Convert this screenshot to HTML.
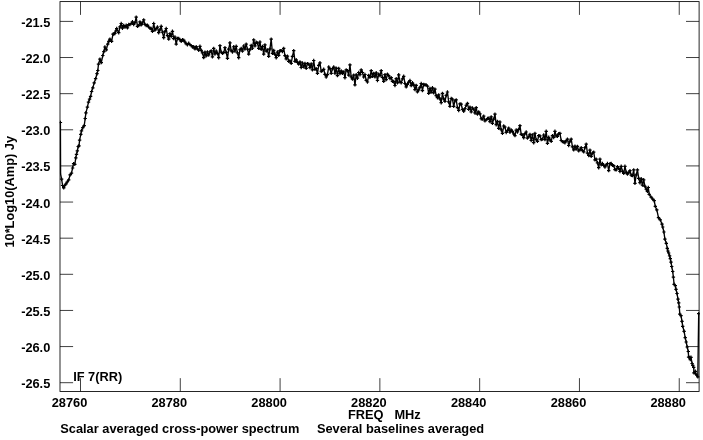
<!DOCTYPE html>
<html><head><meta charset="utf-8"><title>Scalar averaged cross-power spectrum</title>
<style>
html,body{margin:0;padding:0;background:#fff;}
svg{display:block;}
text{font-family:"Liberation Sans",sans-serif;font-weight:bold;font-size:12.8px;fill:#000;}
</style></head><body>
<svg width="703" height="440" viewBox="0 0 703 440">
<rect width="703" height="440" fill="#fff"/>
<rect x="60.0" y="1.6" width="639.10" height="389.85" fill="none" stroke="#000" stroke-width="0.85"/>
<path d="M60.0 21.40h13.1M699.1 21.40h-13.1M60.0 57.53h13.1M699.1 57.53h-13.1M60.0 93.66h13.1M699.1 93.66h-13.1M60.0 129.79h13.1M699.1 129.79h-13.1M60.0 165.92h13.1M699.1 165.92h-13.1M60.0 202.05h13.1M699.1 202.05h-13.1M60.0 238.18h13.1M699.1 238.18h-13.1M60.0 274.31h13.1M699.1 274.31h-13.1M60.0 310.44h13.1M699.1 310.44h-13.1M60.0 346.57h13.1M699.1 346.57h-13.1M60.0 382.70h13.1M699.1 382.70h-13.1M80.50 1.6v13.3M80.50 391.45v-13.3M180.29 1.6v13.3M180.29 391.45v-13.3M280.08 1.6v13.3M280.08 391.45v-13.3M379.87 1.6v13.3M379.87 391.45v-13.3M479.66 1.6v13.3M479.66 391.45v-13.3M579.45 1.6v13.3M579.45 391.45v-13.3M679.24 1.6v13.3M679.24 391.45v-13.3" fill="none" stroke="#000" stroke-width="0.75"/>
<clipPath id="c"><rect x="59.6" y="1" width="640.2" height="391"/></clipPath>
<g clip-path="url(#c)">
<path d="M60.4 122.5 L60.6 174 L61.6 179.2 L62.6 185.5 L63.7 187.9 L64.75 185.52 L65.8 184.2 L67.2 182 L68.7 179.9 L70.1 174.9 L71.5 173.2 L72.6 168 L73.6 163.6 L74.8 164.3 L75.8 157.9 L76.5 154.3 L77.35 150.94 L78.2 146.5 L79 145.8 L79.6 140.1 L80.8 134.4 L81.5 130.8 L82.8 127.7 L84.2 125.6 L85.2 118.5 L85.9 112.8 L87.4 107.1 L88.5 102.1 L89.55 99.2 L90.6 96.4 L91.6 91.5 L92.8 87.9 L94.2 82.9 L95.6 78.7 L97 73.7 L97.8 70.5 L98.5 64.1 L99.9 59.1 L101.3 62.6 L102.8 55.5 L103.85 51.57 L104.9 47 L106.3 49.8 L107.7 44.1 L108.8 41.44 L109.9 39.2 L111.6 41.3 L113 34.2 L113.95 33.81 L114.9 33.5 L115.8 31.02 L116.7 28.5 L118.7 32.7 L119.95 26.84 L121.2 23.5 L122.45 28.22 L123.7 25.39 L124.95 27 L126.2 25.32 L127.45 27.8 L128.7 24.55 L129.95 24.59 L131.2 23.5 L132.45 21.77 L133.7 24.5 L134.95 22.61 L136.2 17.1 L137.45 26.3 L138.7 25.6 L139.95 21.91 L141.2 24.85 L142.45 23 L143.7 19.9 L144.95 24.5 L146.2 25.5 L147.45 25.16 L148.7 27 L149.95 28.26 L151.2 28.5 L152.45 31.3 L153.7 23.5 L154.95 30.03 L156.2 28.5 L157.45 27.03 L158.7 32.7 L159.95 29.79 L161.2 26.3 L162.45 32.27 L163.7 37.7 L164.95 31.45 L166.2 28.5 L167.45 35.59 L168.7 39.1 L169.95 33.71 L171.2 36.51 L172.45 31.3 L173.7 38.66 L174.95 37.01 L176.2 44.1 L177.45 38.43 L178.7 38.4 L179.95 39.77 L181.2 41.42 L182.45 39.68 L183.7 40.19 L184.95 42 L186.2 43.83 L187.45 44.73 L188.7 43.31 L189.95 44.65 L191.2 45.58 L192.45 47 L193.7 46.75 L194.95 48.9 L196.2 46.62 L197.45 49.1 L198.7 50.26 L199.95 46.3 L201.2 50.36 L202.45 52.94 L203.7 57.6 L204.95 52.22 L206.2 55.91 L207.45 51.9 L208.7 54.96 L209.95 51.8 L211.2 50.97 L212.45 56.9 L213.7 48.4 L214.95 54.01 L216.2 50.98 L217.45 53.4 L218.7 57.7 L219.95 45.6 L221.2 52.16 L222.45 53.4 L223.7 52.61 L224.95 47.7 L226.2 52.39 L227.45 58.4 L228.7 49.14 L229.95 42.8 L231.2 50.89 L232.45 52 L233.7 46.76 L234.95 51.02 L236.2 46.3 L237.45 52.81 L238.7 57.7 L239.95 49.74 L241.2 48.4 L242.45 51.17 L243.7 45.98 L244.95 49.04 L246.2 44.2 L247.45 49.1 L248.7 54.1 L249.95 49.65 L251.2 45.35 L252.45 48.24 L253.7 39.9 L254.95 45.92 L256.2 42.23 L257.45 43.06 L258.7 48.4 L259.95 42 L261.2 49.42 L262.45 46.54 L263.7 54.1 L264.95 44.9 L266.2 51.15 L267.45 50.02 L268.7 56.3 L269.95 48.93 L271.2 39.2 L272.45 53.4 L273.7 50.34 L274.95 54.29 L276.2 57.7 L277.45 52.03 L278.7 55.3 L279.95 50.72 L281.2 50.6 L282.45 51.5 L283.7 48.4 L284.95 55.6 L286.2 58.88 L287.45 56.17 L288.7 61.3 L289.95 60.91 L291.2 63.4 L292.45 56.42 L293.7 50.6 L294.95 61.35 L296.2 59.8 L297.45 62.47 L298.7 64.1 L299.95 61.89 L301.2 67.48 L302.45 63 L303.7 66.9 L304.95 63.4 L306.2 68.3 L307.45 63.61 L308.7 64.1 L309.95 67.6 L311.2 63.88 L312.45 69.8 L313.7 60.5 L314.95 69.37 L316.2 68.67 L317.45 73.3 L318.7 65.39 L319.95 62.8 L321.2 71.26 L322.45 70.6 L323.7 69.28 L324.95 74.32 L326.2 77 L327.45 74.6 L328.7 67 L329.95 68.66 L331.2 73.4 L332.45 68.86 L333.7 67 L334.95 73.24 L336.2 68.22 L337.45 75.6 L338.7 68.4 L339.95 73.63 L341.2 70.96 L342.45 73.4 L343.7 71.92 L344.95 77.7 L346.2 69.9 L347.45 70.6 L348.7 75.1 L349.95 64.9 L351.2 76.96 L352.45 79.1 L353.7 75.09 L354.95 84.8 L356.2 74.8 L357.45 78.21 L358.7 72.49 L359.95 74.72 L361.2 69.9 L362.45 72.5 L363.7 77 L364.95 74.52 L366.2 80.39 L367.45 82 L368.7 75.39 L369.95 77.36 L371.2 70.6 L372.45 76.41 L373.7 73.4 L374.95 76.91 L376.2 72.73 L377.45 80.5 L378.7 74.13 L379.95 75.65 L381.2 70.6 L382.45 77.44 L383.7 81.3 L384.95 74.7 L386.2 79.53 L387.45 74.1 L388.7 75.66 L389.95 78.43 L391.2 77.7 L392.45 81.28 L393.7 81.44 L394.95 85.5 L396.2 78.62 L397.45 82.83 L398.7 74.8 L399.95 81.88 L401.2 82.7 L402.45 78.92 L403.7 76.3 L404.95 83.49 L406.2 86.9 L407.45 84.4 L408.7 82.03 L409.95 80.5 L411.2 85.54 L412.45 82.8 L413.7 84.8 L414.95 89.6 L416.2 85.46 L417.45 91.9 L418.7 89.9 L419.95 87.39 L421.2 83.5 L422.45 90.6 L423.7 84.43 L424.95 84.9 L426.2 84.9 L427.45 86.13 L428.7 93.4 L429.95 88.5 L431.2 92.16 L432.45 87.8 L433.7 92.9 L434.95 89.2 L436.2 95.7 L437.45 97.7 L438.7 94.9 L439.95 98.79 L441.2 102.7 L442.45 93.4 L443.7 98.78 L444.95 101.3 L446.2 95.43 L447.45 92 L448.7 101.94 L449.95 106.3 L451.2 98.48 L452.45 99.1 L453.7 106.3 L454.95 100.74 L456.2 99.9 L457.45 107.54 L458.7 110.5 L459.95 103.88 L461.2 104.1 L462.45 109.5 L463.7 111.2 L464.95 108.68 L466.2 105.27 L467.45 103.4 L468.7 109.32 L469.95 107.17 L471.2 111.9 L472.45 107.99 L473.7 109.1 L474.95 112.97 L476.2 107.7 L477.45 114.1 L478.7 111.9 L479.95 113.78 L481.2 118.73 L482.45 119.1 L483.7 116.09 L484.95 120.84 L486.2 119.8 L487.45 118.51 L488.7 118.3 L489.95 121.64 L491.2 116.94 L492.45 123.3 L493.7 119.15 L494.95 114.1 L496.2 124.7 L497.45 121.38 L498.7 128.4 L499.95 122 L501.2 129.74 L502.45 133.4 L503.7 126.01 L504.95 127 L506.2 132.44 L507.45 130.6 L508.7 128.1 L509.95 132.25 L511.2 129.96 L512.45 131.3 L513.7 133.82 L514.95 135.6 L516.2 130.07 L517.45 132 L518.7 129.46 L519.95 125.6 L521.2 134.34 L522.45 134.9 L523.7 137.7 L524.95 133.65 L526.2 132 L527.45 138.15 L528.7 137 L529.95 134.47 L531.2 140.5 L532.45 134.9 L533.7 142.7 L534.95 133.4 L536.2 139.7 L537.45 141.3 L538.7 135.6 L539.95 135.88 L541.2 139.59 L542.45 139.1 L543.7 135 L544.95 139.6 L546.2 131.3 L547.45 143.4 L548.7 137.32 L549.95 139.78 L551.2 141.3 L552.45 135.6 L553.7 137.46 L554.95 131.3 L556.2 135.92 L557.45 136.3 L558.7 133.79 L559.95 133.4 L561.2 140.5 L562.45 141.63 L563.7 142.04 L564.95 142.7 L566.2 140.64 L567.45 139.1 L568.7 145.5 L569.95 141.38 L571.2 139.1 L572.45 146.8 L573.7 149.8 L574.95 146.2 L576.2 149.1 L577.45 146.44 L578.7 150.85 L579.95 149.8 L581.2 147.61 L582.45 150.69 L583.7 151.9 L584.95 147.68 L586.2 144.1 L587.45 153.11 L588.7 155.5 L589.95 150.16 L591.2 156.4 L592.45 153.07 L593.7 152.1 L594.95 159.85 L596.2 159.2 L597.45 162.78 L598.7 167.7 L599.95 159.2 L601.2 164.92 L602.45 163.5 L603.7 165.43 L604.95 167 L606.2 164.74 L607.45 163.5 L608.7 170.6 L609.95 163.58 L611.2 163.5 L612.45 165.41 L613.7 165.6 L614.95 169.54 L616.2 169.9 L617.45 166.62 L618.7 168.4 L619.95 171.5 L621.2 166.3 L622.45 171.18 L623.7 173.4 L624.95 166.3 L626.2 172.11 L627.45 174.1 L628.7 172.85 L629.95 170.6 L631.2 175.26 L632.45 175.6 L633.7 169.9 L634.95 183.4 L636.2 174.91 L637.45 169.9 L638.7 178.4 L639.95 182.7 L641.2 178.78 L642.45 185.07 L643.7 179.8 L644.95 186.33 L646.2 189.1 L647.4 191.4 L648.3 187.5 L649.2 194.3 L651.1 197.1 L652.8 199.2 L654.2 200.7 L655.3 206.4 L656.8 209.9 L658.5 217.7 L660.3 219.9 L662 224.1 L662.7 227 L663.9 232 L664.9 239.1 L666.3 243.3 L667.3 248.3 L667.9 251 L668.7 253 L669.6 255.8 L670.3 258.7 L671 262.2 L671.7 266.5 L672.7 271.5 L673.4 277.2 L674.1 284.3 L675.3 285.7 L676 289.3 L677 293.5 L678 299.2 L678.7 302.8 L679.3 307 L679.8 314.2 L681 315.7 L682 321.4 L682.7 326.3 L684.1 331.3 L685.2 337.7 L686.2 342 L687.2 347 L688.3 351.5 L688.6 357.1 L689.6 357.5 L690.3 359.6 L691 357.3 L692.1 363.5 L692.8 365.3 L693.7 367.4 L693.9 372.8 L695.3 371.3 L695.7 373.8 L696.7 375.2 L697.8 376.9 L698.7 313.6" fill="none" stroke="#000" stroke-width="1.35" stroke-linejoin="round"/>
<path d="M58.7 122.5h3.4M60.4 120.8v3.4M59.9 179.2h3.4M61.6 177.5v3.4M60.9 185.5h3.4M62.6 183.8v3.4M62 187.9h3.4M63.7 186.2v3.4M63.05 185.52h3.4M64.75 183.82v3.4M64.1 184.2h3.4M65.8 182.5v3.4M65.5 182h3.4M67.2 180.3v3.4M67 179.9h3.4M68.7 178.2v3.4M68.4 174.9h3.4M70.1 173.2v3.4M69.8 173.2h3.4M71.5 171.5v3.4M70.9 168h3.4M72.6 166.3v3.4M71.9 163.6h3.4M73.6 161.9v3.4M73.1 164.3h3.4M74.8 162.6v3.4M74.1 157.9h3.4M75.8 156.2v3.4M74.8 154.3h3.4M76.5 152.6v3.4M75.65 150.94h3.4M77.35 149.24v3.4M76.5 146.5h3.4M78.2 144.8v3.4M77.3 145.8h3.4M79 144.1v3.4M77.9 140.1h3.4M79.6 138.4v3.4M79.1 134.4h3.4M80.8 132.7v3.4M79.8 130.8h3.4M81.5 129.1v3.4M81.1 127.7h3.4M82.8 126v3.4M82.5 125.6h3.4M84.2 123.9v3.4M83.5 118.5h3.4M85.2 116.8v3.4M84.2 112.8h3.4M85.9 111.1v3.4M85.7 107.1h3.4M87.4 105.4v3.4M86.8 102.1h3.4M88.5 100.4v3.4M87.85 99.2h3.4M89.55 97.5v3.4M88.9 96.4h3.4M90.6 94.7v3.4M89.9 91.5h3.4M91.6 89.8v3.4M91.1 87.9h3.4M92.8 86.2v3.4M92.5 82.9h3.4M94.2 81.2v3.4M93.9 78.7h3.4M95.6 77v3.4M95.3 73.7h3.4M97 72v3.4M96.1 70.5h3.4M97.8 68.8v3.4M96.8 64.1h3.4M98.5 62.4v3.4M98.2 59.1h3.4M99.9 57.4v3.4M99.6 62.6h3.4M101.3 60.9v3.4M101.1 55.5h3.4M102.8 53.8v3.4M102.15 51.57h3.4M103.85 49.87v3.4M103.2 47h3.4M104.9 45.3v3.4M104.6 49.8h3.4M106.3 48.1v3.4M106 44.1h3.4M107.7 42.4v3.4M107.1 41.44h3.4M108.8 39.74v3.4M108.2 39.2h3.4M109.9 37.5v3.4M109.9 41.3h3.4M111.6 39.6v3.4M111.3 34.2h3.4M113 32.5v3.4M112.25 33.81h3.4M113.95 32.11v3.4M113.2 33.5h3.4M114.9 31.8v3.4M114.1 31.02h3.4M115.8 29.32v3.4M115 28.5h3.4M116.7 26.8v3.4M117 32.7h3.4M118.7 31v3.4M118.25 26.84h3.4M119.95 25.14v3.4M119.5 23.5h3.4M121.2 21.8v3.4M120.75 28.22h3.4M122.45 26.52v3.4M122 25.39h3.4M123.7 23.69v3.4M123.25 27h3.4M124.95 25.3v3.4M124.5 25.32h3.4M126.2 23.62v3.4M125.75 27.8h3.4M127.45 26.1v3.4M127 24.55h3.4M128.7 22.85v3.4M128.25 24.59h3.4M129.95 22.89v3.4M129.5 23.5h3.4M131.2 21.8v3.4M130.75 21.77h3.4M132.45 20.07v3.4M132 24.5h3.4M133.7 22.8v3.4M133.25 22.61h3.4M134.95 20.91v3.4M134.5 17.1h3.4M136.2 15.4v3.4M135.75 26.3h3.4M137.45 24.6v3.4M137 25.6h3.4M138.7 23.9v3.4M138.25 21.91h3.4M139.95 20.21v3.4M139.5 24.85h3.4M141.2 23.15v3.4M140.75 23h3.4M142.45 21.3v3.4M142 19.9h3.4M143.7 18.2v3.4M143.25 24.5h3.4M144.95 22.8v3.4M144.5 25.5h3.4M146.2 23.8v3.4M145.75 25.16h3.4M147.45 23.46v3.4M147 27h3.4M148.7 25.3v3.4M148.25 28.26h3.4M149.95 26.56v3.4M149.5 28.5h3.4M151.2 26.8v3.4M150.75 31.3h3.4M152.45 29.6v3.4M152 23.5h3.4M153.7 21.8v3.4M153.25 30.03h3.4M154.95 28.33v3.4M154.5 28.5h3.4M156.2 26.8v3.4M155.75 27.03h3.4M157.45 25.33v3.4M157 32.7h3.4M158.7 31v3.4M158.25 29.79h3.4M159.95 28.09v3.4M159.5 26.3h3.4M161.2 24.6v3.4M160.75 32.27h3.4M162.45 30.57v3.4M162 37.7h3.4M163.7 36v3.4M163.25 31.45h3.4M164.95 29.75v3.4M164.5 28.5h3.4M166.2 26.8v3.4M165.75 35.59h3.4M167.45 33.89v3.4M167 39.1h3.4M168.7 37.4v3.4M168.25 33.71h3.4M169.95 32.01v3.4M169.5 36.51h3.4M171.2 34.81v3.4M170.75 31.3h3.4M172.45 29.6v3.4M172 38.66h3.4M173.7 36.96v3.4M173.25 37.01h3.4M174.95 35.31v3.4M174.5 44.1h3.4M176.2 42.4v3.4M175.75 38.43h3.4M177.45 36.73v3.4M177 38.4h3.4M178.7 36.7v3.4M178.25 39.77h3.4M179.95 38.07v3.4M179.5 41.42h3.4M181.2 39.72v3.4M180.75 39.68h3.4M182.45 37.98v3.4M182 40.19h3.4M183.7 38.49v3.4M183.25 42h3.4M184.95 40.3v3.4M184.5 43.83h3.4M186.2 42.13v3.4M185.75 44.73h3.4M187.45 43.03v3.4M187 43.31h3.4M188.7 41.61v3.4M188.25 44.65h3.4M189.95 42.95v3.4M189.5 45.58h3.4M191.2 43.88v3.4M190.75 47h3.4M192.45 45.3v3.4M192 46.75h3.4M193.7 45.05v3.4M193.25 48.9h3.4M194.95 47.2v3.4M194.5 46.62h3.4M196.2 44.92v3.4M195.75 49.1h3.4M197.45 47.4v3.4M197 50.26h3.4M198.7 48.56v3.4M198.25 46.3h3.4M199.95 44.6v3.4M199.5 50.36h3.4M201.2 48.66v3.4M200.75 52.94h3.4M202.45 51.24v3.4M202 57.6h3.4M203.7 55.9v3.4M203.25 52.22h3.4M204.95 50.52v3.4M204.5 55.91h3.4M206.2 54.21v3.4M205.75 51.9h3.4M207.45 50.2v3.4M207 54.96h3.4M208.7 53.26v3.4M208.25 51.8h3.4M209.95 50.1v3.4M209.5 50.97h3.4M211.2 49.27v3.4M210.75 56.9h3.4M212.45 55.2v3.4M212 48.4h3.4M213.7 46.7v3.4M213.25 54.01h3.4M214.95 52.31v3.4M214.5 50.98h3.4M216.2 49.28v3.4M215.75 53.4h3.4M217.45 51.7v3.4M217 57.7h3.4M218.7 56v3.4M218.25 45.6h3.4M219.95 43.9v3.4M219.5 52.16h3.4M221.2 50.46v3.4M220.75 53.4h3.4M222.45 51.7v3.4M222 52.61h3.4M223.7 50.91v3.4M223.25 47.7h3.4M224.95 46v3.4M224.5 52.39h3.4M226.2 50.69v3.4M225.75 58.4h3.4M227.45 56.7v3.4M227 49.14h3.4M228.7 47.44v3.4M228.25 42.8h3.4M229.95 41.1v3.4M229.5 50.89h3.4M231.2 49.19v3.4M230.75 52h3.4M232.45 50.3v3.4M232 46.76h3.4M233.7 45.06v3.4M233.25 51.02h3.4M234.95 49.32v3.4M234.5 46.3h3.4M236.2 44.6v3.4M235.75 52.81h3.4M237.45 51.11v3.4M237 57.7h3.4M238.7 56v3.4M238.25 49.74h3.4M239.95 48.04v3.4M239.5 48.4h3.4M241.2 46.7v3.4M240.75 51.17h3.4M242.45 49.47v3.4M242 45.98h3.4M243.7 44.28v3.4M243.25 49.04h3.4M244.95 47.34v3.4M244.5 44.2h3.4M246.2 42.5v3.4M245.75 49.1h3.4M247.45 47.4v3.4M247 54.1h3.4M248.7 52.4v3.4M248.25 49.65h3.4M249.95 47.95v3.4M249.5 45.35h3.4M251.2 43.65v3.4M250.75 48.24h3.4M252.45 46.54v3.4M252 39.9h3.4M253.7 38.2v3.4M253.25 45.92h3.4M254.95 44.22v3.4M254.5 42.23h3.4M256.2 40.53v3.4M255.75 43.06h3.4M257.45 41.36v3.4M257 48.4h3.4M258.7 46.7v3.4M258.25 42h3.4M259.95 40.3v3.4M259.5 49.42h3.4M261.2 47.72v3.4M260.75 46.54h3.4M262.45 44.84v3.4M262 54.1h3.4M263.7 52.4v3.4M263.25 44.9h3.4M264.95 43.2v3.4M264.5 51.15h3.4M266.2 49.45v3.4M265.75 50.02h3.4M267.45 48.32v3.4M267 56.3h3.4M268.7 54.6v3.4M268.25 48.93h3.4M269.95 47.23v3.4M269.5 39.2h3.4M271.2 37.5v3.4M270.75 53.4h3.4M272.45 51.7v3.4M272 50.34h3.4M273.7 48.64v3.4M273.25 54.29h3.4M274.95 52.59v3.4M274.5 57.7h3.4M276.2 56v3.4M275.75 52.03h3.4M277.45 50.33v3.4M277 55.3h3.4M278.7 53.6v3.4M278.25 50.72h3.4M279.95 49.02v3.4M279.5 50.6h3.4M281.2 48.9v3.4M280.75 51.5h3.4M282.45 49.8v3.4M282 48.4h3.4M283.7 46.7v3.4M283.25 55.6h3.4M284.95 53.9v3.4M284.5 58.88h3.4M286.2 57.18v3.4M285.75 56.17h3.4M287.45 54.47v3.4M287 61.3h3.4M288.7 59.6v3.4M288.25 60.91h3.4M289.95 59.21v3.4M289.5 63.4h3.4M291.2 61.7v3.4M290.75 56.42h3.4M292.45 54.72v3.4M292 50.6h3.4M293.7 48.9v3.4M293.25 61.35h3.4M294.95 59.65v3.4M294.5 59.8h3.4M296.2 58.1v3.4M295.75 62.47h3.4M297.45 60.77v3.4M297 64.1h3.4M298.7 62.4v3.4M298.25 61.89h3.4M299.95 60.19v3.4M299.5 67.48h3.4M301.2 65.78v3.4M300.75 63h3.4M302.45 61.3v3.4M302 66.9h3.4M303.7 65.2v3.4M303.25 63.4h3.4M304.95 61.7v3.4M304.5 68.3h3.4M306.2 66.6v3.4M305.75 63.61h3.4M307.45 61.91v3.4M307 64.1h3.4M308.7 62.4v3.4M308.25 67.6h3.4M309.95 65.9v3.4M309.5 63.88h3.4M311.2 62.18v3.4M310.75 69.8h3.4M312.45 68.1v3.4M312 60.5h3.4M313.7 58.8v3.4M313.25 69.37h3.4M314.95 67.67v3.4M314.5 68.67h3.4M316.2 66.97v3.4M315.75 73.3h3.4M317.45 71.6v3.4M317 65.39h3.4M318.7 63.69v3.4M318.25 62.8h3.4M319.95 61.1v3.4M319.5 71.26h3.4M321.2 69.56v3.4M320.75 70.6h3.4M322.45 68.9v3.4M322 69.28h3.4M323.7 67.58v3.4M323.25 74.32h3.4M324.95 72.62v3.4M324.5 77h3.4M326.2 75.3v3.4M325.75 74.6h3.4M327.45 72.9v3.4M327 67h3.4M328.7 65.3v3.4M328.25 68.66h3.4M329.95 66.96v3.4M329.5 73.4h3.4M331.2 71.7v3.4M330.75 68.86h3.4M332.45 67.16v3.4M332 67h3.4M333.7 65.3v3.4M333.25 73.24h3.4M334.95 71.54v3.4M334.5 68.22h3.4M336.2 66.52v3.4M335.75 75.6h3.4M337.45 73.9v3.4M337 68.4h3.4M338.7 66.7v3.4M338.25 73.63h3.4M339.95 71.93v3.4M339.5 70.96h3.4M341.2 69.26v3.4M340.75 73.4h3.4M342.45 71.7v3.4M342 71.92h3.4M343.7 70.22v3.4M343.25 77.7h3.4M344.95 76v3.4M344.5 69.9h3.4M346.2 68.2v3.4M345.75 70.6h3.4M347.45 68.9v3.4M347 75.1h3.4M348.7 73.4v3.4M348.25 64.9h3.4M349.95 63.2v3.4M349.5 76.96h3.4M351.2 75.26v3.4M350.75 79.1h3.4M352.45 77.4v3.4M352 75.09h3.4M353.7 73.39v3.4M353.25 84.8h3.4M354.95 83.1v3.4M354.5 74.8h3.4M356.2 73.1v3.4M355.75 78.21h3.4M357.45 76.51v3.4M357 72.49h3.4M358.7 70.79v3.4M358.25 74.72h3.4M359.95 73.02v3.4M359.5 69.9h3.4M361.2 68.2v3.4M360.75 72.5h3.4M362.45 70.8v3.4M362 77h3.4M363.7 75.3v3.4M363.25 74.52h3.4M364.95 72.82v3.4M364.5 80.39h3.4M366.2 78.69v3.4M365.75 82h3.4M367.45 80.3v3.4M367 75.39h3.4M368.7 73.69v3.4M368.25 77.36h3.4M369.95 75.66v3.4M369.5 70.6h3.4M371.2 68.9v3.4M370.75 76.41h3.4M372.45 74.71v3.4M372 73.4h3.4M373.7 71.7v3.4M373.25 76.91h3.4M374.95 75.21v3.4M374.5 72.73h3.4M376.2 71.03v3.4M375.75 80.5h3.4M377.45 78.8v3.4M377 74.13h3.4M378.7 72.43v3.4M378.25 75.65h3.4M379.95 73.95v3.4M379.5 70.6h3.4M381.2 68.9v3.4M380.75 77.44h3.4M382.45 75.74v3.4M382 81.3h3.4M383.7 79.6v3.4M383.25 74.7h3.4M384.95 73v3.4M384.5 79.53h3.4M386.2 77.83v3.4M385.75 74.1h3.4M387.45 72.4v3.4M387 75.66h3.4M388.7 73.96v3.4M388.25 78.43h3.4M389.95 76.73v3.4M389.5 77.7h3.4M391.2 76v3.4M390.75 81.28h3.4M392.45 79.58v3.4M392 81.44h3.4M393.7 79.74v3.4M393.25 85.5h3.4M394.95 83.8v3.4M394.5 78.62h3.4M396.2 76.92v3.4M395.75 82.83h3.4M397.45 81.13v3.4M397 74.8h3.4M398.7 73.1v3.4M398.25 81.88h3.4M399.95 80.18v3.4M399.5 82.7h3.4M401.2 81v3.4M400.75 78.92h3.4M402.45 77.22v3.4M402 76.3h3.4M403.7 74.6v3.4M403.25 83.49h3.4M404.95 81.79v3.4M404.5 86.9h3.4M406.2 85.2v3.4M405.75 84.4h3.4M407.45 82.7v3.4M407 82.03h3.4M408.7 80.33v3.4M408.25 80.5h3.4M409.95 78.8v3.4M409.5 85.54h3.4M411.2 83.84v3.4M410.75 82.8h3.4M412.45 81.1v3.4M412 84.8h3.4M413.7 83.1v3.4M413.25 89.6h3.4M414.95 87.9v3.4M414.5 85.46h3.4M416.2 83.76v3.4M415.75 91.9h3.4M417.45 90.2v3.4M417 89.9h3.4M418.7 88.2v3.4M418.25 87.39h3.4M419.95 85.69v3.4M419.5 83.5h3.4M421.2 81.8v3.4M420.75 90.6h3.4M422.45 88.9v3.4M422 84.43h3.4M423.7 82.73v3.4M423.25 84.9h3.4M424.95 83.2v3.4M424.5 84.9h3.4M426.2 83.2v3.4M425.75 86.13h3.4M427.45 84.43v3.4M427 93.4h3.4M428.7 91.7v3.4M428.25 88.5h3.4M429.95 86.8v3.4M429.5 92.16h3.4M431.2 90.46v3.4M430.75 87.8h3.4M432.45 86.1v3.4M432 92.9h3.4M433.7 91.2v3.4M433.25 89.2h3.4M434.95 87.5v3.4M434.5 95.7h3.4M436.2 94v3.4M435.75 97.7h3.4M437.45 96v3.4M437 94.9h3.4M438.7 93.2v3.4M438.25 98.79h3.4M439.95 97.09v3.4M439.5 102.7h3.4M441.2 101v3.4M440.75 93.4h3.4M442.45 91.7v3.4M442 98.78h3.4M443.7 97.08v3.4M443.25 101.3h3.4M444.95 99.6v3.4M444.5 95.43h3.4M446.2 93.73v3.4M445.75 92h3.4M447.45 90.3v3.4M447 101.94h3.4M448.7 100.24v3.4M448.25 106.3h3.4M449.95 104.6v3.4M449.5 98.48h3.4M451.2 96.78v3.4M450.75 99.1h3.4M452.45 97.4v3.4M452 106.3h3.4M453.7 104.6v3.4M453.25 100.74h3.4M454.95 99.04v3.4M454.5 99.9h3.4M456.2 98.2v3.4M455.75 107.54h3.4M457.45 105.84v3.4M457 110.5h3.4M458.7 108.8v3.4M458.25 103.88h3.4M459.95 102.18v3.4M459.5 104.1h3.4M461.2 102.4v3.4M460.75 109.5h3.4M462.45 107.8v3.4M462 111.2h3.4M463.7 109.5v3.4M463.25 108.68h3.4M464.95 106.98v3.4M464.5 105.27h3.4M466.2 103.57v3.4M465.75 103.4h3.4M467.45 101.7v3.4M467 109.32h3.4M468.7 107.62v3.4M468.25 107.17h3.4M469.95 105.47v3.4M469.5 111.9h3.4M471.2 110.2v3.4M470.75 107.99h3.4M472.45 106.29v3.4M472 109.1h3.4M473.7 107.4v3.4M473.25 112.97h3.4M474.95 111.27v3.4M474.5 107.7h3.4M476.2 106v3.4M475.75 114.1h3.4M477.45 112.4v3.4M477 111.9h3.4M478.7 110.2v3.4M478.25 113.78h3.4M479.95 112.08v3.4M479.5 118.73h3.4M481.2 117.03v3.4M480.75 119.1h3.4M482.45 117.4v3.4M482 116.09h3.4M483.7 114.39v3.4M483.25 120.84h3.4M484.95 119.14v3.4M484.5 119.8h3.4M486.2 118.1v3.4M485.75 118.51h3.4M487.45 116.81v3.4M487 118.3h3.4M488.7 116.6v3.4M488.25 121.64h3.4M489.95 119.94v3.4M489.5 116.94h3.4M491.2 115.24v3.4M490.75 123.3h3.4M492.45 121.6v3.4M492 119.15h3.4M493.7 117.45v3.4M493.25 114.1h3.4M494.95 112.4v3.4M494.5 124.7h3.4M496.2 123v3.4M495.75 121.38h3.4M497.45 119.68v3.4M497 128.4h3.4M498.7 126.7v3.4M498.25 122h3.4M499.95 120.3v3.4M499.5 129.74h3.4M501.2 128.04v3.4M500.75 133.4h3.4M502.45 131.7v3.4M502 126.01h3.4M503.7 124.31v3.4M503.25 127h3.4M504.95 125.3v3.4M504.5 132.44h3.4M506.2 130.74v3.4M505.75 130.6h3.4M507.45 128.9v3.4M507 128.1h3.4M508.7 126.4v3.4M508.25 132.25h3.4M509.95 130.55v3.4M509.5 129.96h3.4M511.2 128.26v3.4M510.75 131.3h3.4M512.45 129.6v3.4M512 133.82h3.4M513.7 132.12v3.4M513.25 135.6h3.4M514.95 133.9v3.4M514.5 130.07h3.4M516.2 128.37v3.4M515.75 132h3.4M517.45 130.3v3.4M517 129.46h3.4M518.7 127.76v3.4M518.25 125.6h3.4M519.95 123.9v3.4M519.5 134.34h3.4M521.2 132.64v3.4M520.75 134.9h3.4M522.45 133.2v3.4M522 137.7h3.4M523.7 136v3.4M523.25 133.65h3.4M524.95 131.95v3.4M524.5 132h3.4M526.2 130.3v3.4M525.75 138.15h3.4M527.45 136.45v3.4M527 137h3.4M528.7 135.3v3.4M528.25 134.47h3.4M529.95 132.77v3.4M529.5 140.5h3.4M531.2 138.8v3.4M530.75 134.9h3.4M532.45 133.2v3.4M532 142.7h3.4M533.7 141v3.4M533.25 133.4h3.4M534.95 131.7v3.4M534.5 139.7h3.4M536.2 138v3.4M535.75 141.3h3.4M537.45 139.6v3.4M537 135.6h3.4M538.7 133.9v3.4M538.25 135.88h3.4M539.95 134.18v3.4M539.5 139.59h3.4M541.2 137.89v3.4M540.75 139.1h3.4M542.45 137.4v3.4M542 135h3.4M543.7 133.3v3.4M543.25 139.6h3.4M544.95 137.9v3.4M544.5 131.3h3.4M546.2 129.6v3.4M545.75 143.4h3.4M547.45 141.7v3.4M547 137.32h3.4M548.7 135.62v3.4M548.25 139.78h3.4M549.95 138.08v3.4M549.5 141.3h3.4M551.2 139.6v3.4M550.75 135.6h3.4M552.45 133.9v3.4M552 137.46h3.4M553.7 135.76v3.4M553.25 131.3h3.4M554.95 129.6v3.4M554.5 135.92h3.4M556.2 134.22v3.4M555.75 136.3h3.4M557.45 134.6v3.4M557 133.79h3.4M558.7 132.09v3.4M558.25 133.4h3.4M559.95 131.7v3.4M559.5 140.5h3.4M561.2 138.8v3.4M560.75 141.63h3.4M562.45 139.93v3.4M562 142.04h3.4M563.7 140.34v3.4M563.25 142.7h3.4M564.95 141v3.4M564.5 140.64h3.4M566.2 138.94v3.4M565.75 139.1h3.4M567.45 137.4v3.4M567 145.5h3.4M568.7 143.8v3.4M568.25 141.38h3.4M569.95 139.68v3.4M569.5 139.1h3.4M571.2 137.4v3.4M570.75 146.8h3.4M572.45 145.1v3.4M572 149.8h3.4M573.7 148.1v3.4M573.25 146.2h3.4M574.95 144.5v3.4M574.5 149.1h3.4M576.2 147.4v3.4M575.75 146.44h3.4M577.45 144.74v3.4M577 150.85h3.4M578.7 149.15v3.4M578.25 149.8h3.4M579.95 148.1v3.4M579.5 147.61h3.4M581.2 145.91v3.4M580.75 150.69h3.4M582.45 148.99v3.4M582 151.9h3.4M583.7 150.2v3.4M583.25 147.68h3.4M584.95 145.98v3.4M584.5 144.1h3.4M586.2 142.4v3.4M585.75 153.11h3.4M587.45 151.41v3.4M587 155.5h3.4M588.7 153.8v3.4M588.25 150.16h3.4M589.95 148.46v3.4M589.5 156.4h3.4M591.2 154.7v3.4M590.75 153.07h3.4M592.45 151.37v3.4M592 152.1h3.4M593.7 150.4v3.4M593.25 159.85h3.4M594.95 158.15v3.4M594.5 159.2h3.4M596.2 157.5v3.4M595.75 162.78h3.4M597.45 161.08v3.4M597 167.7h3.4M598.7 166v3.4M598.25 159.2h3.4M599.95 157.5v3.4M599.5 164.92h3.4M601.2 163.22v3.4M600.75 163.5h3.4M602.45 161.8v3.4M602 165.43h3.4M603.7 163.73v3.4M603.25 167h3.4M604.95 165.3v3.4M604.5 164.74h3.4M606.2 163.04v3.4M605.75 163.5h3.4M607.45 161.8v3.4M607 170.6h3.4M608.7 168.9v3.4M608.25 163.58h3.4M609.95 161.88v3.4M609.5 163.5h3.4M611.2 161.8v3.4M610.75 165.41h3.4M612.45 163.71v3.4M612 165.6h3.4M613.7 163.9v3.4M613.25 169.54h3.4M614.95 167.84v3.4M614.5 169.9h3.4M616.2 168.2v3.4M615.75 166.62h3.4M617.45 164.92v3.4M617 168.4h3.4M618.7 166.7v3.4M618.25 171.5h3.4M619.95 169.8v3.4M619.5 166.3h3.4M621.2 164.6v3.4M620.75 171.18h3.4M622.45 169.48v3.4M622 173.4h3.4M623.7 171.7v3.4M623.25 166.3h3.4M624.95 164.6v3.4M624.5 172.11h3.4M626.2 170.41v3.4M625.75 174.1h3.4M627.45 172.4v3.4M627 172.85h3.4M628.7 171.15v3.4M628.25 170.6h3.4M629.95 168.9v3.4M629.5 175.26h3.4M631.2 173.56v3.4M630.75 175.6h3.4M632.45 173.9v3.4M632 169.9h3.4M633.7 168.2v3.4M633.25 183.4h3.4M634.95 181.7v3.4M634.5 174.91h3.4M636.2 173.21v3.4M635.75 169.9h3.4M637.45 168.2v3.4M637 178.4h3.4M638.7 176.7v3.4M638.25 182.7h3.4M639.95 181v3.4M639.5 178.78h3.4M641.2 177.08v3.4M640.75 185.07h3.4M642.45 183.37v3.4M642 179.8h3.4M643.7 178.1v3.4M643.25 186.33h3.4M644.95 184.63v3.4M644.5 189.1h3.4M646.2 187.4v3.4M645.7 191.4h3.4M647.4 189.7v3.4M646.6 187.5h3.4M648.3 185.8v3.4M647.5 194.3h3.4M649.2 192.6v3.4M649.4 197.1h3.4M651.1 195.4v3.4M651.1 199.2h3.4M652.8 197.5v3.4M652.5 200.7h3.4M654.2 199v3.4M653.6 206.4h3.4M655.3 204.7v3.4M655.1 209.9h3.4M656.8 208.2v3.4M656.8 217.7h3.4M658.5 216v3.4M658.6 219.9h3.4M660.3 218.2v3.4M660.3 224.1h3.4M662 222.4v3.4M661 227h3.4M662.7 225.3v3.4M662.2 232h3.4M663.9 230.3v3.4M663.2 239.1h3.4M664.9 237.4v3.4M664.6 243.3h3.4M666.3 241.6v3.4M665.6 248.3h3.4M667.3 246.6v3.4M666.2 251h3.4M667.9 249.3v3.4M667 253h3.4M668.7 251.3v3.4M667.9 255.8h3.4M669.6 254.1v3.4M668.6 258.7h3.4M670.3 257v3.4M669.3 262.2h3.4M671 260.5v3.4M670 266.5h3.4M671.7 264.8v3.4M671 271.5h3.4M672.7 269.8v3.4M671.7 277.2h3.4M673.4 275.5v3.4M672.4 284.3h3.4M674.1 282.6v3.4M673.6 285.7h3.4M675.3 284v3.4M674.3 289.3h3.4M676 287.6v3.4M675.3 293.5h3.4M677 291.8v3.4M676.3 299.2h3.4M678 297.5v3.4M677 302.8h3.4M678.7 301.1v3.4M677.6 307h3.4M679.3 305.3v3.4M678.1 314.2h3.4M679.8 312.5v3.4M679.3 315.7h3.4M681 314v3.4M680.3 321.4h3.4M682 319.7v3.4M681 326.3h3.4M682.7 324.6v3.4M682.4 331.3h3.4M684.1 329.6v3.4M683.5 337.7h3.4M685.2 336v3.4M684.5 342h3.4M686.2 340.3v3.4M685.5 347h3.4M687.2 345.3v3.4M686.6 351.5h3.4M688.3 349.8v3.4M686.9 357.1h3.4M688.6 355.4v3.4M687.9 357.5h3.4M689.6 355.8v3.4M688.6 359.6h3.4M690.3 357.9v3.4M689.3 357.3h3.4M691 355.6v3.4M690.4 363.5h3.4M692.1 361.8v3.4M691.1 365.3h3.4M692.8 363.6v3.4M692 367.4h3.4M693.7 365.7v3.4M692.2 372.8h3.4M693.9 371.1v3.4M693.6 371.3h3.4M695.3 369.6v3.4M694 373.8h3.4M695.7 372.1v3.4M695 375.2h3.4M696.7 373.5v3.4M696.1 376.9h3.4M697.8 375.2v3.4M697 313.6h3.4M698.7 311.9v3.4" fill="none" stroke="#000" stroke-width="1.2"/>
</g>
<text x="50.3" y="26.90" text-anchor="end">-21.5</text>
<text x="50.3" y="63.03" text-anchor="end">-22.0</text>
<text x="50.3" y="99.16" text-anchor="end">-22.5</text>
<text x="50.3" y="135.29" text-anchor="end">-23.0</text>
<text x="50.3" y="171.42" text-anchor="end">-23.5</text>
<text x="50.3" y="207.55" text-anchor="end">-24.0</text>
<text x="50.3" y="243.68" text-anchor="end">-24.5</text>
<text x="50.3" y="279.81" text-anchor="end">-25.0</text>
<text x="50.3" y="315.94" text-anchor="end">-25.5</text>
<text x="50.3" y="352.07" text-anchor="end">-26.0</text>
<text x="50.3" y="388.20" text-anchor="end">-26.5</text>
<text x="69.5" y="407.2" text-anchor="middle">28760</text>
<text x="169.3" y="407.2" text-anchor="middle">28780</text>
<text x="269.1" y="407.2" text-anchor="middle">28800</text>
<text x="368.9" y="407.2" text-anchor="middle">28820</text>
<text x="468.7" y="407.2" text-anchor="middle">28840</text>
<text x="568.5" y="407.2" text-anchor="middle">28860</text>
<text x="668.2" y="407.2" text-anchor="middle">28880</text>

<text x="73.2" y="381.2">IF 7(RR)</text>
<text x="347.9" y="418.7">FREQ</text><text x="394.4" y="418.7">MHz</text>
<text x="60.3" y="432.8">Scalar averaged cross-power spectrum</text>
<text x="316.9" y="432.8">Several baselines averaged</text>
<text transform="translate(13.9 247.6) rotate(-90)">10*Log10(Amp) Jy</text>
</svg>
</body></html>
